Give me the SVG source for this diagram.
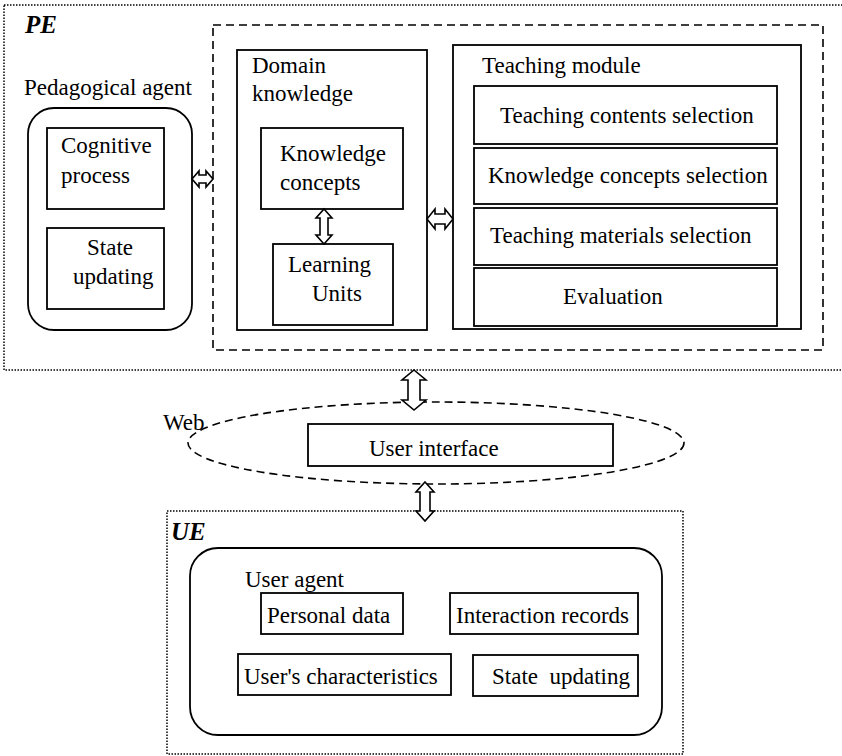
<svg xmlns="http://www.w3.org/2000/svg" width="842" height="756" viewBox="0 0 842 756" font-family="'Liberation Serif', 'DejaVu Serif', 'Times New Roman', serif">
<style>
text{font-family:'Liberation Serif','DejaVu Serif','Times New Roman',serif;font-size:23px;fill:#000}
.env{font-weight:bold;font-style:italic;font-size:25px}
.box{fill:none;stroke:#000;stroke-width:1.8}
.dot{fill:none;stroke:#000;stroke-width:1.5;stroke-dasharray:1.5 1.5}
.dash{fill:none;stroke:#000;stroke-width:1.6;stroke-dasharray:8 5}
.arr{fill:#fff;stroke:#000;stroke-width:1.6;stroke-linejoin:miter}
</style>
<rect width="842" height="756" fill="#fff"/>
<g id="PE">
<rect class="dot" x="4" y="5" width="842" height="365"/>
<text class="env" x="25" y="33">PE</text>
</g>
<g id="core">
<rect class="dash" x="213" y="25" width="610" height="325"/>
</g>
<g id="pedagogical-agent">
<text x="24" y="95">Pedagogical agent</text>
<rect class="box" x="28" y="108" width="164" height="222" rx="26"/>
</g>
<g id="cognitive-process">
<rect class="box" x="47" y="128" width="117" height="81"/>
<text x="61" y="153">Cognitive</text>
<text x="61" y="183">process</text>
</g>
<g id="pa-state-updating">
<rect class="box" x="47" y="228" width="117" height="81"/>
<text x="87" y="255">State</text>
<text x="73" y="284">updating</text>
</g>
<g id="domain-knowledge">
<rect class="box" x="237" y="50" width="190" height="280"/>
<text x="252" y="73">Domain</text>
<text x="252" y="101">knowledge</text>
</g>
<g id="knowledge-concepts">
<rect class="box" x="261" y="128" width="142" height="81"/>
<text x="280" y="161">Knowledge</text>
<text x="280" y="190">concepts</text>
</g>
<g id="learning-units">
<rect class="box" x="273" y="244" width="120" height="81"/>
<text x="288" y="272">Learning</text>
<text x="312" y="301">Units</text>
</g>
<g id="teaching-module">
<rect class="box" x="453" y="45" width="348" height="284"/>
<text x="482" y="73">Teaching module</text>
</g>
<g id="teaching-contents">
<rect class="box" x="474" y="86" width="303" height="58"/>
<text x="500" y="123">Teaching contents selection</text>
</g>
<g id="knowledge-concepts-selection">
<rect class="box" x="474" y="148" width="303" height="56"/>
<text x="488" y="183">Knowledge concepts selection</text>
</g>
<g id="teaching-materials">
<rect class="box" x="474" y="208" width="303" height="57"/>
<text x="490" y="243">Teaching materials selection</text>
</g>
<g id="evaluation">
<rect class="box" x="474" y="268" width="303" height="58"/>
<text x="563" y="304">Evaluation</text>
</g>
<g id="web">
<ellipse class="dash" cx="436" cy="443" rx="248" ry="41"/>
<text x="163" y="430">Web</text>
</g>
<g id="user-interface">
<rect class="box" x="308" y="424" width="305" height="42"/>
<text x="369" y="456">User interface</text>
</g>
<g id="UE">
<rect class="dot" x="167" y="511" width="516" height="243"/>
<text class="env" x="171" y="540">UE</text>
</g>
<g id="user-agent">
<rect class="box" x="190" y="548" width="472" height="187" rx="28"/>
<text x="245" y="587">User agent</text>
</g>
<g id="personal-data">
<rect class="box" x="261" y="593" width="142" height="41"/>
<text x="267" y="623">Personal data</text>
</g>
<g id="interaction-records">
<rect class="box" x="450" y="593" width="188" height="41"/>
<text x="456" y="623">Interaction records</text>
</g>
<g id="users-characteristics">
<rect class="box" x="238" y="654" width="213" height="41"/>
<text x="244" y="684">User's characteristics</text>
</g>
<g id="ua-state-updating">
<rect class="box" x="473" y="655" width="165" height="41"/>
<text x="492" y="684" xml:space="preserve">State  updating</text>
</g>
<g id="connectors">
<polygon class="arr" points="192,179 199,171 199,175 206,175 206,171 213,179 206,187 206,183 199,183 199,187"/>
<polygon class="arr" points="427,219 435,209 435,214 445,214 445,209 453,219 445,229 445,224 435,224 435,229"/>
<polygon class="arr" points="324,209 332,218 328,218 328,235 332,235 324,244 316,235 320,235 320,218 316,218"/>
<polygon class="arr" points="414,370 426,380 420,380 420,400 426,400 414,410 402,400 408,400 408,380 402,380"/>
<polygon class="arr" points="425,482 434,492 430,492 430,511 434,511 425,521 416,511 420,511 420,492 416,492"/>
</g>
</svg>
